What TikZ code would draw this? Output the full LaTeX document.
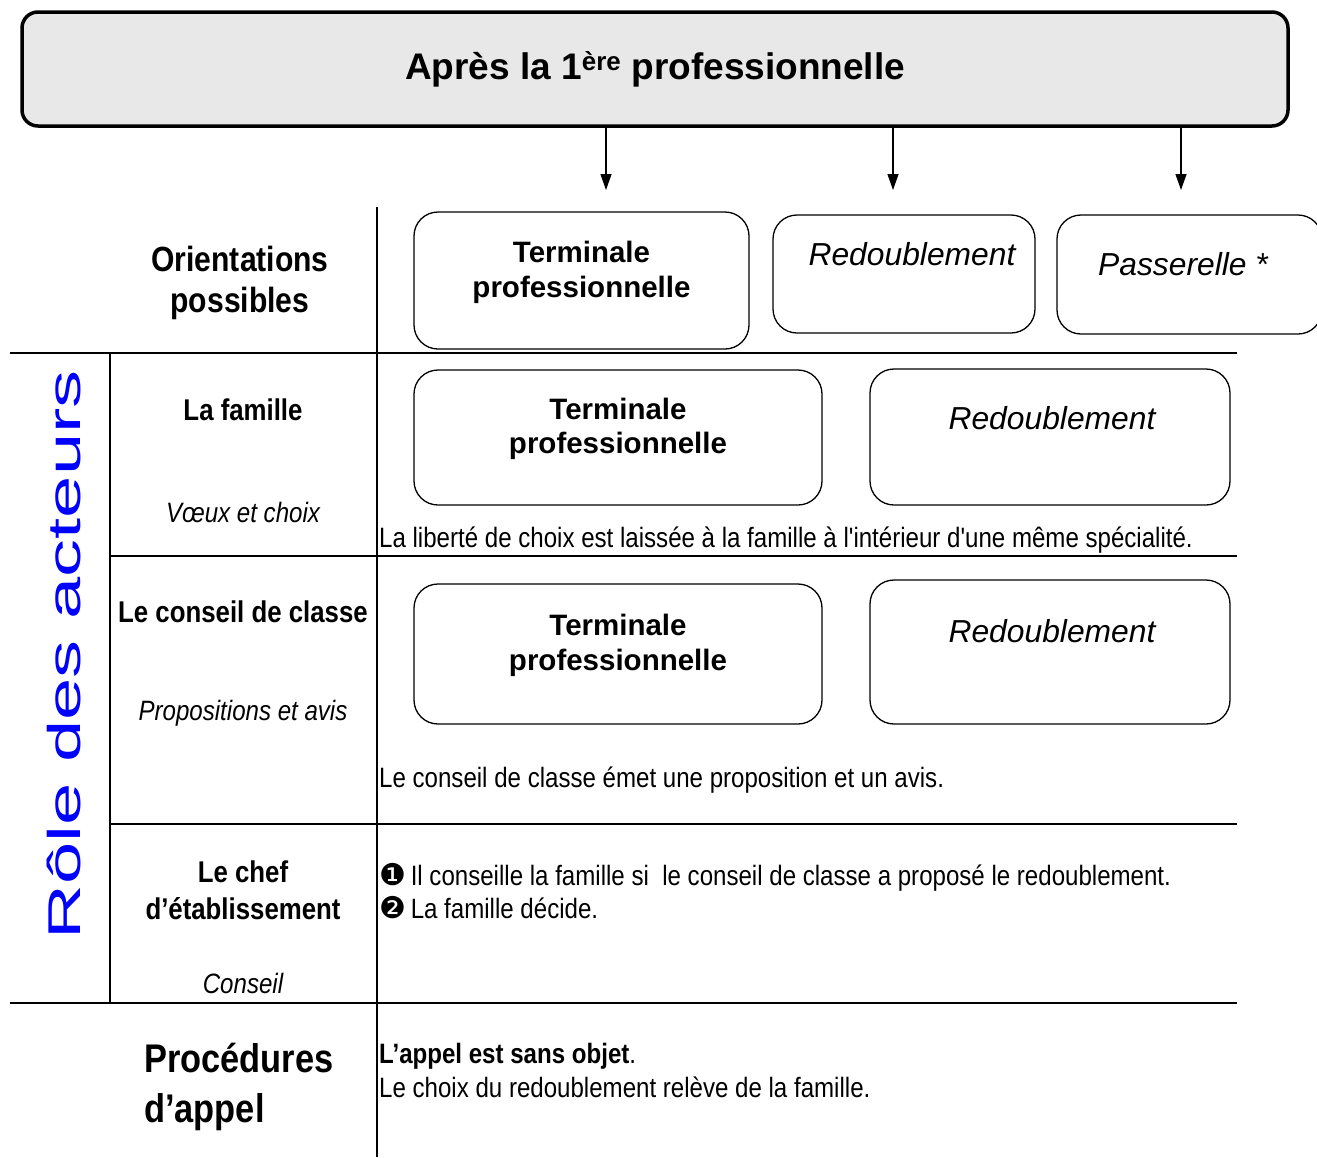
\documentclass[tikz,border=0pt]{standalone}
\usepackage{fontspec}
\setmainfont{Liberation Sans}
\newfontfamily\narrowfont[FakeStretch=0.86]{Liberation Sans}
\newfontfamily\widefont[FakeStretch=1.65]{Liberation Sans}
\newfontfamily\dingfont{DejaVu Sans}
\usetikzlibrary{arrows.meta}
\tikzset{choice/.style={draw,rounded corners=24pt,line width=1.3pt,inner sep=0pt},
  choicebf/.style={font=\fontsize{29.5}{34.5}\selectfont\bfseries,align=center,inner sep=0pt},
  choiceit/.style={font=\fontsize{31.8}{36}\selectfont\itshape,anchor=base,inner sep=0pt},
  rowhead/.style={font=\narrowfont\fontsize{30}{37}\selectfont\bfseries,align=center,inner sep=0pt},
  rowsub/.style={font=\narrowfont\fontsize{28}{34}\selectfont\itshape,anchor=base,inner sep=0pt},
  note/.style={font=\narrowfont\fontsize{28}{33}\selectfont,anchor=base west,inner sep=0pt},
  rule/.style={line width=2pt}}

\begin{document}
\begin{tikzpicture}[x=1pt,y=-1pt,>={Triangle[length=16pt,width=11pt]}]
    \clip (0,0) rectangle (1317,1157);

    % title and the three arrows
    \node[draw,line width=3.5pt,rounded corners=16pt,fill=gray!18,minimum width=1266pt,minimum height=114pt,
          font=\fontsize{37}{40}\selectfont\bfseries] (title) at (655,69) {Après la 1\textsuperscript{ère} professionnelle};
    \coordinate (a1) at (606,190);
    \coordinate (a2) at (893,190);
    \coordinate (a3) at (1181,190);
    \draw [->,line width=1.3pt] (title.south -| a1) -- (a1);
    \draw [->,line width=1.3pt] (title.south -| a2) -- (a2);
    \draw [->,line width=1.3pt] (title.south -| a3) -- (a3);

    % table rules
    \draw [rule] (377,207) -- (377,1157);
    \draw [rule] (10,353) -- (1237,353);
    \draw [rule] (110,556) -- (1237,556);
    \draw [rule] (110,824) -- (1237,824);
    \draw [rule] (10,1003) -- (1237,1003);
    \draw [rule] (110,353) -- (110,1003);

    \node[font=\widefont\fontsize{46}{50}\selectfont,text=blue,rotate=90,anchor=base,inner sep=0pt] (roles) at (80,655) {Rôle des acteurs};

    % left column
    \node[rowhead,font=\narrowfont\fontsize{35}{41}\selectfont\bfseries] (orient) at (240,282.5) {Orientations\\possibles};
    \node[rowhead,anchor=base] (fam) at (243,420) {La famille};
    \node[rowsub] (famsub) at (243,522) {Vœux et choix};
    \node[rowhead,anchor=base] (cons) at (243,622.5) {Le conseil de classe};
    \node[rowsub] (conssub) at (243,720) {Propositions et avis};
    \node[rowhead] (chef) at (243,890.5) {Le chef\\d’établissement};
    \node[rowsub] (chefsub) at (243,993) {Conseil};
    \node[rowhead,align=left,anchor=west,font=\narrowfont\fontsize{40}{50}\selectfont\bfseries] (appel) at (144,1086.5) {Procédures\\d’appel};

    % orientations possibles
    \node[choice,minimum width=335pt,minimum height=137pt] (tp1) at (581.5,280.5) {};
    \node[choice,minimum width=262pt,minimum height=118pt] (rd1) at (904,274) {};
    \node[choice,minimum width=265pt,minimum height=119pt] (ps1) at (1189.5,274.5) {};
    \node[choicebf] (tp1t) at (581.5,272.5) {Terminale\\professionnelle};
    \node[choiceit] (rd1t) at (912,265) {Redoublement};
    \node[choiceit] (ps1t) at (1183,275) {Passerelle *};

    % la famille
    \node[choice,minimum width=408pt,minimum height=135pt] (tp2) at (618,437.5) {};
    \node[choice,minimum width=360pt,minimum height=136pt] (rd2) at (1050,437) {};
    \node[choicebf] (tp2t) at (618,429) {Terminale\\professionnelle};
    \node[choiceit] (rd2t) at (1052,429) {Redoublement};
    \node[note] (famnote) at (379,547) {La liberté de choix est laissée à la famille à l'intérieur d'une même spécialité.};

    % le conseil de classe
    \node[choice,minimum width=408pt,minimum height=140pt] (tp3) at (618,654) {};
    \node[choice,minimum width=360pt,minimum height=144pt] (rd3) at (1050,652) {};
    \node[choicebf] (tp3t) at (618,645.5) {Terminale\\professionnelle};
    \node[choiceit] (rd3t) at (1052,642) {Redoublement};
    \node[note] (consnote) at (379,787) {Le conseil de classe émet une proposition et un avis.};

    % le chef d'etablissement
    \node[note] (chefa) at (379,885) {{\dingfont\fontsize{30}{30}\selectfont ❶}\hspace{-2pt} Il conseille la famille si\ \ le conseil de classe a proposé le redoublement.};
    \node[note] (chefb) at (379,918) {{\dingfont\fontsize{30}{30}\selectfont ❷}\hspace{-2pt} La famille décide.};

    % procedures d'appel
    \node[note] (appela) at (379,1063) {\bfseries L’appel est sans objet\mdseries.};
    \node[note] (appelb) at (379,1097) {Le choix du redoublement relève de la famille.};
\end{tikzpicture}
\end{document}
